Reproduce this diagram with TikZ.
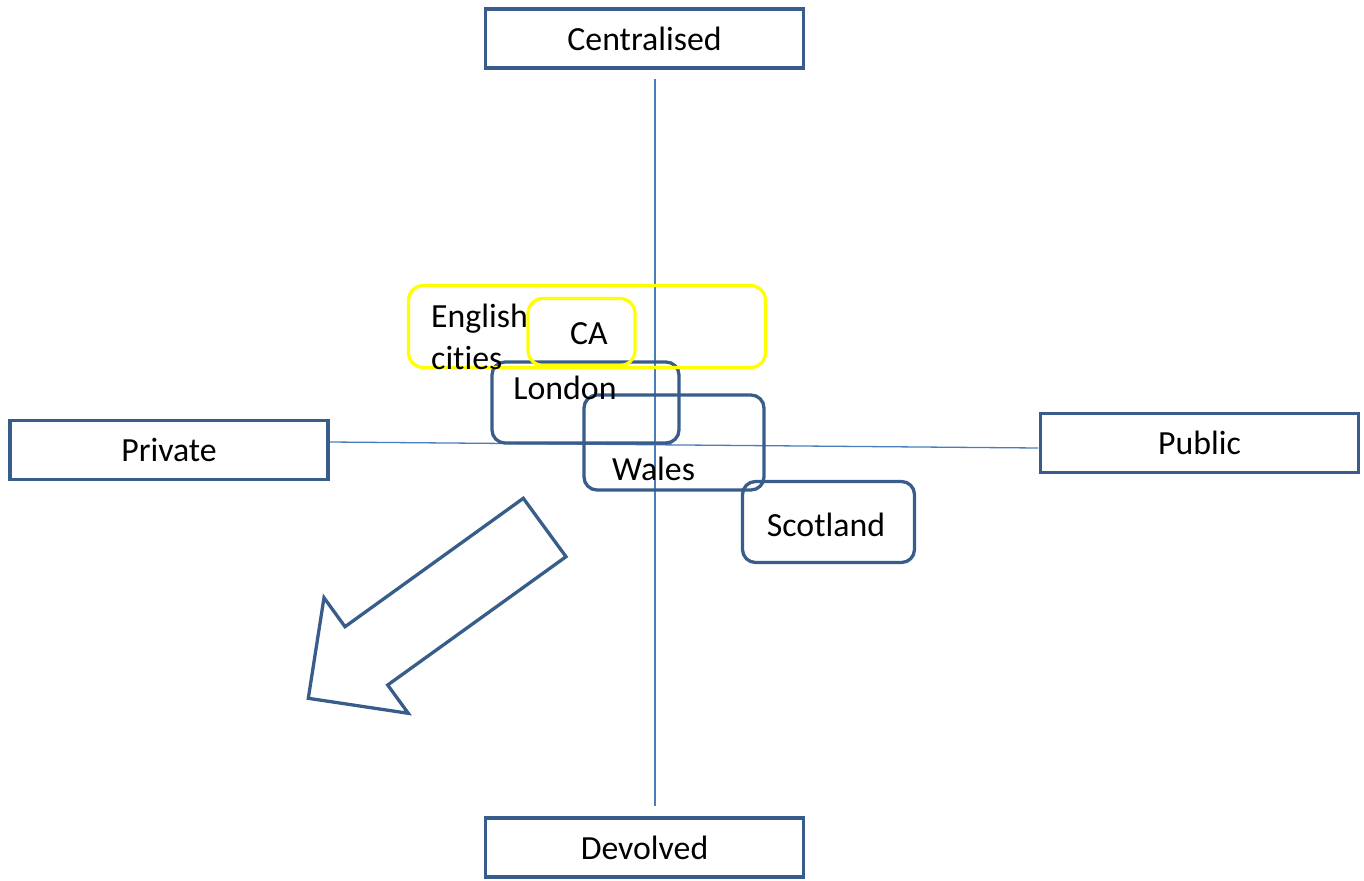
\documentclass[tikz,border=0pt]{standalone}
\usepackage{fontspec}
\setmainfont[Ligatures=NoCommon]{Carlito}
\definecolor{boxblue}{HTML}{385D8A}
\definecolor{axisblue}{HTML}{4A7EBB}
\definecolor{yel}{HTML}{FFFF00}
\begin{document}
\begin{tikzpicture}[x=1pt,y=-1pt,
  lbl/.style={font=\fontsize{33.8}{42}\selectfont, text=black, inner sep=0pt},
  axisbox/.style={draw=boxblue, line width=3.3pt, fill=white, rectangle, inner sep=0pt,
    minimum width=318pt, minimum height=59pt, font=\fontsize{33.8}{42}\selectfont},
  rbox/.style={draw=boxblue, line width=3.3pt, rounded corners=13pt, rectangle, inner sep=0pt},
  ybox/.style={draw=yel, line width=3.3pt, rounded corners=15pt, rectangle, inner sep=0pt},
  axisline/.style={draw=axisblue, line width=1.3pt}]
\useasboundingbox (0,0) rectangle (1364,880);
% axis ends
\coordinate (vtop) at (655,79);
\coordinate (vbot) at (655,806);
\coordinate (hleft) at (330,442);
\coordinate (hright) at (1038,448);
\draw[axisline] (vtop) -- (vbot);
\draw[axisline] (hleft) -- (hright);
% axis boxes
\node[axisbox] (cent) at (644.5,38.5) {Centralised};
\node[axisbox] (dev) at (644.5,847.5) {Devolved};
\node[axisbox] (priv) at (169,450) {Private};
\node[axisbox] (pub) at (1199.5,443) {Public};
% region boxes
\node[rbox, minimum width=187pt, minimum height=81pt] (london) at (585.5,402.5) {};
\node[rbox, minimum width=180pt, minimum height=95pt] (wales) at (674,442.5) {};
\node[rbox, minimum width=172pt, minimum height=81pt] (scot) at (828.5,522) {};
\node[ybox, minimum width=357pt, minimum height=82pt] (eng) at (587,326.5) {};
\node[ybox, minimum width=107pt, minimum height=67pt] (ca) at (581.5,332) {};
% labels
\node[lbl, anchor=north west, align=left] (engl) at (431,304) {English\\cities};
\node[lbl] (cal) at (589,334) {CA};
\node[lbl] (lonl) at (565,387.5) {London};
\node[lbl] (wall) at (653.5,469) {Wales};
\node[lbl] (scol) at (826,525) {Scotland};
% block arrow
\draw[boxblue, line width=3.3pt, line join=miter]
  (523.3,498.3) -- (566,556.7) -- (387.7,685) -- (408.3,713.3) -- (308.3,698.3)
  -- (324,597.7) -- (345,626.7) -- cycle;
\end{tikzpicture}
\end{document}
